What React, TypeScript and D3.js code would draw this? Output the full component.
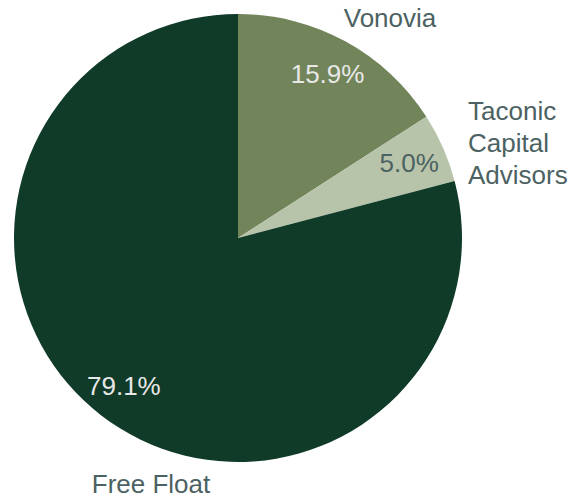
import React from "react";
import * as d3 from "d3";

const holders = ["Vonovia", "Taconic Capital Advisors", "Free Float"];
const shares = [15.9, 5.0, 79.1];
const colors = ["#72855a", "#b8c4aa", "#103b28"];
const pctColors = ["#e8e8e8", "#4c6262", "#e8e8e8"];

const W = 575;
const H = 500;
const cx = 238;
const cy = 238;
const R = 224;
const font = "'Liberation Sans', Arial, sans-serif";

// outer label placement (anchor, x, first baseline)
const outerLabels = [
  { lines: ["Vonovia"], x: 390, y: 27, anchor: "middle" },
  { lines: ["Taconic", "Capital", "Advisors"], x: 468, y: 120, anchor: "start" },
  { lines: ["Free Float"], x: 151, y: 493, anchor: "middle" },
];

export default function App() {
  const pie = d3.pie<number>().sort(null).value((d) => d);
  const arcs = pie(shares);
  const arc = d3.arc<d3.PieArcDatum<number>>().innerRadius(0).outerRadius(R);
  const labelArc = d3
    .arc<d3.PieArcDatum<number>>()
    .innerRadius(187)
    .outerRadius(187);

  return (
    <svg
      width={W}
      height={H}
      style={{ position: "absolute", left: 0, top: 0 }}
      fontFamily={font}
    >
      <g transform={`translate(${cx},${cy})`}>
        {arcs.map((a, i) => (
          <path key={holders[i]} d={arc(a) || ""} fill={colors[i]} />
        ))}
        {arcs.map((a, i) => {
          const [x, y] = labelArc.centroid(a);
          return (
            <text
              key={"p" + i}
              x={x}
              y={y + 9}
              textAnchor="middle"
              fontSize={26}
              fill={pctColors[i]}
            >
              {shares[i].toFixed(1)}%
            </text>
          );
        })}
      </g>
      {outerLabels.map((l, i) => (
        <text
          key={holders[i]}
          x={l.x}
          y={l.y}
          textAnchor={l.anchor}
          fontSize={26}
          fill="#4c6262"
        >
          {l.lines.map((t, j) => (
            <tspan key={t} x={l.x} dy={j === 0 ? 0 : 32}>
              {t}
            </tspan>
          ))}
        </text>
      ))}
    </svg>
  );
}
